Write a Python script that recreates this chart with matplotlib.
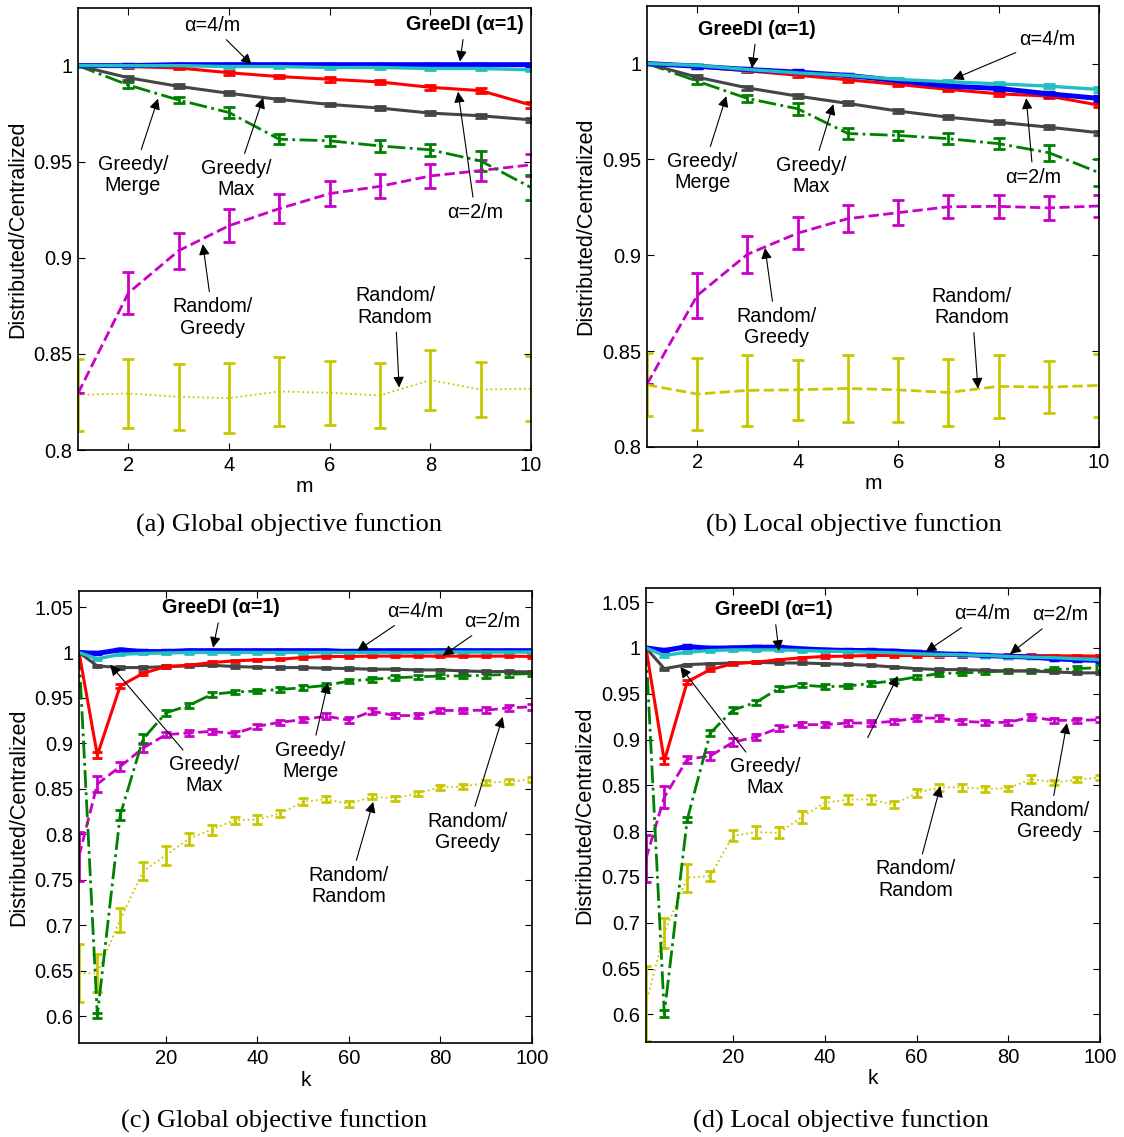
"""Distributed vs. centralized ratio, four panels (varying m and k)."""
import matplotlib
matplotlib.use("Agg")
import matplotlib.pyplot as plt

plt.rcParams["font.family"] = ["Liberation Sans", "DejaVu Sans"]
plt.rcParams["font.size"] = 14
plt.rcParams["axes.linewidth"] = 1.2

# ---------------------------------------------------------------- data
m_values = [1, 2, 3, 4, 5, 6, 7, 8, 9, 10]
k_values = [1, 5, 10, 15, 20, 25, 30, 35, 40, 45, 50,
            55, 60, 65, 70, 75, 80, 85, 90, 95, 100]

# (a) global objective, varying m
a_greedi = [1.0, 1.0, 1.0005, 1.0005, 1.0005, 1.0005, 1.0005, 1.0005, 1.0005, 1.0005]
a_greedi_err = [0, 0.0006, 0.0006, 0.0006, 0.0006, 0.0006, 0.0006, 0.0006, 0.0006, 0.0006]
a_alpha4 = [1.0, 1.0, 1.0, 0.9995, 0.9995, 0.999, 0.999, 0.9985, 0.9985, 0.9978]
a_alpha4_err = [0, 0.0005, 0.0005, 0.0005, 0.0005, 0.0005, 0.0005, 0.0006, 0.0006, 0.0006]
a_alpha2 = [1.0, 0.9995, 0.9988, 0.9963, 0.9943, 0.9929, 0.9915, 0.9887, 0.987, 0.9795]
a_alpha2_err = [0, 0.0005, 0.0008, 0.001, 0.001, 0.0012, 0.0012, 0.0013, 0.0014, 0.0016]
a_max = [1.0, 0.9937, 0.9892, 0.9856, 0.9824, 0.9798, 0.9779, 0.9753, 0.9739, 0.9718]
a_max_err = [0, 0.001, 0.001, 0.001, 0.001, 0.001, 0.001, 0.001, 0.001, 0.001]
a_merge = [1.0, 0.9899, 0.9821, 0.9756, 0.9617, 0.9609, 0.9582, 0.9562, 0.9504, 0.9366]
a_merge_err = [0, 0.0017, 0.0017, 0.0031, 0.0026, 0.0026, 0.003, 0.003, 0.0052, 0.0065]
a_rand_greedy = [0.8295, 0.8817, 0.9037, 0.9167, 0.9256, 0.9334, 0.9372, 0.9426, 0.9454, 0.9484]
a_rand_greedy_err = [0, 0.0107, 0.0094, 0.0085, 0.0076, 0.0065, 0.0063, 0.0061, 0.0054, 0.0057]
a_rand_rand = [0.8287, 0.8294, 0.8277, 0.827, 0.8305, 0.8298, 0.8284, 0.8364, 0.8315, 0.8319]
a_rand_rand_err = [0.0186, 0.0178, 0.0172, 0.0183, 0.0178, 0.0167, 0.0167, 0.0157, 0.0141, 0.017]

# (b) local objective, varying m
b_greedi = [1.0, 0.9986, 0.9969, 0.9955, 0.9938, 0.9911, 0.9882, 0.987, 0.9842, 0.9818]
b_greedi_err = [0, 0.0008, 0.0008, 0.0009, 0.0009, 0.001, 0.001, 0.0011, 0.0012, 0.0012]
b_alpha4 = [1.0, 0.999, 0.9969, 0.9951, 0.9938, 0.9917, 0.9905, 0.9894, 0.9882, 0.9865]
b_alpha4_err = [0, 0.0008, 0.0008, 0.0009, 0.0009, 0.001, 0.001, 0.0011, 0.0012, 0.0012]
b_alpha2 = [1.0, 0.9983, 0.9962, 0.9939, 0.9915, 0.9891, 0.9865, 0.9842, 0.983, 0.9783]
b_alpha2_err = [0, 0.0008, 0.0008, 0.0009, 0.0009, 0.001, 0.001, 0.0011, 0.0012, 0.0012]
b_max = [1.0, 0.9929, 0.9873, 0.983, 0.9792, 0.9752, 0.972, 0.9694, 0.9668, 0.9639]
b_max_err = [0, 0.001, 0.001, 0.001, 0.001, 0.001, 0.001, 0.001, 0.001, 0.001]
b_merge = [1.0, 0.9908, 0.9818, 0.9764, 0.9635, 0.9625, 0.9608, 0.9582, 0.9535, 0.9431]
b_merge_err = [0, 0.0015, 0.002, 0.003, 0.003, 0.0025, 0.003, 0.003, 0.0042, 0.0072]
b_rand_greedy = [0.8328, 0.879, 0.9005, 0.9115, 0.9191, 0.9222, 0.9253, 0.9255, 0.9247, 0.9257]
b_rand_greedy_err = [0, 0.0115, 0.0095, 0.0082, 0.0072, 0.0064, 0.0061, 0.0059, 0.0063, 0.0056]
b_rand_rand = [0.8324, 0.8276, 0.8295, 0.8298, 0.8305, 0.8298, 0.8284, 0.8316, 0.8312, 0.8321]
b_rand_rand_err = [0.0164, 0.0187, 0.0185, 0.0157, 0.0175, 0.0166, 0.0177, 0.0165, 0.0135, 0.0163]

# (c) global objective, varying k
c_greedi = [1.0, 0.999, 1.003, 1.001, 1.001, 1.002, 1.002, 1.002, 1.002, 1.002, 1.002,
            1.002, 1.001, 1.002, 1.002, 1.002, 1.002, 1.002, 1.002, 1.002, 1.002]
c_alpha4 = [1.0, 0.9930, 0.998, 0.999, 0.9995, 1.0, 1.0, 1.0, 1.0, 1.0, 1.0,
            1.0, 1.0, 1.0, 1.0, 1.0, 1.0005, 1.0005, 1.0005, 1.0005, 1.0005]
c_alpha2 = [1.0, 0.887, 0.9631, 0.9771, 0.9845, 0.986, 0.9889, 0.9908, 0.9919, 0.9926, 0.9945,
            0.9956, 0.9956, 0.996, 0.996, 0.996, 0.996, 0.996, 0.996, 0.996, 0.9956]
c_max = [1.0, 0.9852, 0.9834, 0.9834, 0.9845, 0.9852, 0.986, 0.9845, 0.9838, 0.9834, 0.9834,
         0.9827, 0.9823, 0.9816, 0.9816, 0.9808, 0.9808, 0.9797, 0.979, 0.979, 0.9786]
c_merge = [1.0, 0.6007, 0.8211, 0.9049, 0.9336, 0.9417, 0.9539, 0.9565, 0.9576, 0.9594, 0.9612,
           0.9638, 0.9686, 0.9705, 0.9723, 0.9731, 0.9742, 0.9742, 0.9749, 0.976, 0.9768]
c_rand_greedy = [0.776, 0.8553, 0.8745, 0.8948, 0.9096, 0.9114, 0.9133, 0.9107, 0.9188, 0.9232, 0.9262,
                 0.9299, 0.9255, 0.9354, 0.9306, 0.9306, 0.9362, 0.9362, 0.9365, 0.9391, 0.9402]
c_rand_rand = [0.647, 0.647, 0.706, 0.7594, 0.7769, 0.795, 0.8052, 0.8155, 0.8162, 0.8229, 0.8358,
               0.8387, 0.8332, 0.8413, 0.8395, 0.845, 0.8517, 0.8524, 0.8568, 0.8579, 0.8605]

# (d) local objective, varying k
d_greedi = [1.0, 0.9971, 1.0014, 0.9996, 1.0, 1.0007, 1.0007, 0.9989, 0.9978, 0.9971, 0.9971,
            0.9964, 0.9953, 0.9935, 0.9928, 0.9917, 0.9906, 0.9899, 0.9881, 0.987, 0.9863]
d_alpha4 = [1.0, 0.9917, 0.9953, 0.9971, 0.9978, 0.9978, 0.9978, 0.9971, 0.9964, 0.996, 0.9953,
            0.9946, 0.9935, 0.9928, 0.9924, 0.9917, 0.9906, 0.9899, 0.9892, 0.9881, 0.987]
d_alpha2 = [1.0, 0.8766, 0.963, 0.9763, 0.9827, 0.9845, 0.987, 0.9892, 0.9906, 0.991, 0.9917,
            0.9917, 0.9917, 0.9917, 0.9917, 0.9917, 0.9917, 0.9917, 0.9914, 0.9912, 0.991]
d_max = [1.0, 0.9773, 0.9817, 0.9827, 0.9835, 0.9842, 0.9835, 0.9835, 0.9827, 0.982, 0.9809,
         0.9791, 0.9773, 0.9763, 0.9763, 0.9755, 0.9748, 0.9748, 0.9737, 0.9727, 0.9727]
d_merge = [1.0, 0.6008, 0.8126, 0.907, 0.9322, 0.9406, 0.9558, 0.9594, 0.9576, 0.9583, 0.9612,
           0.964, 0.9683, 0.9719, 0.9727, 0.9737, 0.9748, 0.9748, 0.9763, 0.9773, 0.9784]
d_rand_greedy = [0.770, 0.837, 0.8784, 0.882, 0.8971, 0.9029, 0.9126, 0.9162, 0.9162, 0.918, 0.918,
                 0.9198, 0.9234, 0.9234, 0.9198, 0.9187, 0.9187, 0.9245, 0.9209, 0.9209, 0.9216]
d_rand_rand = [0.612, 0.6887, 0.7492, 0.751, 0.795, 0.799, 0.798, 0.8155, 0.8309, 0.8345, 0.8345,
               0.8288, 0.8417, 0.8478, 0.8478, 0.846, 0.8468, 0.8568, 0.8532, 0.8561, 0.8586]

# error bars for the k sweeps
k_small_err = [0, 0.0012, 0.0012, 0.0012, 0.0012, 0.0012, 0.0012, 0.0012, 0.0012, 0.0012, 0.0012,
               0.0012, 0.0012, 0.0012, 0.0012, 0.0012, 0.0012, 0.0012, 0.0012, 0.0012, 0.0012]
c_alpha2_err = [0, 0.003, 0.002, 0.0018, 0.0015, 0.0012, 0.0012, 0.0012, 0.0012, 0.0012, 0.0012,
                0.0012, 0.0012, 0.0012, 0.0012, 0.0012, 0.0012, 0.0012, 0.0012, 0.0012, 0.0012]
c_merge_err = [0, 0.003, 0.0055, 0.005, 0.003, 0.003, 0.0025, 0.0025, 0.0025, 0.0025, 0.0025,
               0.0025, 0.0025, 0.0025, 0.0025, 0.0025, 0.0025, 0.0025, 0.0025, 0.0025, 0.0025]
c_rand_greedy_err = [0.027, 0.009, 0.005, 0.004, 0.003, 0.003, 0.003, 0.003, 0.003, 0.003, 0.003,
                     0.003, 0.003, 0.003, 0.003, 0.003, 0.003, 0.003, 0.003, 0.003, 0.003]
c_rand_rand_err = [0.032, 0.021, 0.013, 0.010, 0.0105, 0.0065, 0.0055, 0.004, 0.005, 0.004, 0.004,
                   0.003, 0.003, 0.003, 0.003, 0.003, 0.003, 0.003, 0.003, 0.003, 0.003]
d_alpha2_err = [0, 0.003, 0.002, 0.0018, 0.0015, 0.0012, 0.0012, 0.0012, 0.0012, 0.0012, 0.0012,
                0.0012, 0.0012, 0.0012, 0.0012, 0.0012, 0.0012, 0.0012, 0.0012, 0.0012, 0.0012]
d_merge_err = [0, 0.004, 0.003, 0.003, 0.003, 0.003, 0.0025, 0.0025, 0.0025, 0.0025, 0.0025,
               0.0025, 0.0025, 0.0025, 0.0025, 0.0025, 0.0025, 0.0025, 0.0025, 0.0025, 0.0025]
d_rand_greedy_err = [0.026, 0.012, 0.004, 0.004, 0.004, 0.003, 0.003, 0.003, 0.003, 0.003, 0.003,
                     0.003, 0.003, 0.003, 0.003, 0.003, 0.003, 0.003, 0.003, 0.003, 0.003]
d_rand_rand_err = [0.041, 0.0166, 0.0155, 0.005, 0.006, 0.007, 0.006, 0.007, 0.006, 0.005, 0.005,
                   0.004, 0.004, 0.004, 0.004, 0.003, 0.003, 0.004, 0.003, 0.003, 0.003]

# ---------------------------------------------------------------- styles
STYLE = {
    "rand_rand":   dict(color="#c8c800", ls=":", lw=1.3, elinewidth=2.0),
    "rand_greedy": dict(color="#c800c8", ls="--", lw=2.0, elinewidth=2.0),
    "merge":       dict(color="#008000", ls="-.", lw=2.0, elinewidth=2.0),
    "max":         dict(color="#454545", ls="-", lw=2.2, elinewidth=2.0),
    "alpha2":      dict(color="#ff0000", ls="-", lw=2.2, elinewidth=2.0),
    "greedi":      dict(color="#0000ff", ls="-", lw=3.6, elinewidth=2.5),
    "alpha4":      dict(color="#20c0c0", ls="-", lw=2.4, elinewidth=2.0),
}
DRAW_ORDER = ["rand_rand", "rand_greedy", "merge", "max", "alpha2", "greedi", "alpha4"]


def draw_series(ax, x, series, capsize, overrides=None):
    for name in DRAW_ORDER:
        y, err = series[name]
        st = dict(STYLE[name])
        if overrides and name in overrides:
            st.update(overrides[name])
        ax.errorbar(x, y, yerr=err, color=st["color"], ls=st["ls"], lw=st["lw"],
                    elinewidth=st["elinewidth"], capsize=capsize,
                    capthick=st["elinewidth"])


def style_axes(ax, xlim, ylim, xticks, yticks, yticklabels, xlabel):
    ax.set_xlim(*xlim)
    ax.set_ylim(*ylim)
    ax.set_xticks(xticks)
    ax.set_yticks(yticks)
    ax.set_yticklabels(yticklabels)
    ax.tick_params(direction="in", top=True, right=True, length=5,
                   width=0.8, labelsize=14.5, pad=4)
    ax.set_xlabel(xlabel, fontsize=15, labelpad=2)
    ax.set_ylabel("Distributed/Centralized", fontsize=15.5, labelpad=4)


def note(ax, text, xytext, xy, bold=False):
    ax.annotate(text, xy=xy, xytext=xytext, ha="center", va="center",
                fontsize=14.2, fontweight="bold" if bold else "normal",
                linespacing=1.15,
                arrowprops=dict(arrowstyle="-|>", color="k", lw=0.8,
                                mutation_scale=16, shrinkA=2, shrinkB=0))


fig = plt.figure(figsize=(11.24, 11.37), dpi=100)

ax_a = fig.add_axes([0.0694, 0.6042, 0.4030, 0.3888])
ax_b = fig.add_axes([0.5756, 0.6069, 0.4022, 0.3878])
ax_c = fig.add_axes([0.0703, 0.0824, 0.4030, 0.3981])
ax_d = fig.add_axes([0.5747, 0.0836, 0.4039, 0.3990])

m_yticks = [0.8, 0.85, 0.9, 0.95, 1.0]
m_ylabels = ["0.8", "0.85", "0.9", "0.95", "1"]
k_yticks = [0.6, 0.65, 0.7, 0.75, 0.8, 0.85, 0.9, 0.95, 1.0, 1.05]
k_ylabels = ["0.6", "0.65", "0.7", "0.75", "0.8", "0.85", "0.9", "0.95", "1", "1.05"]

# (a)
draw_series(ax_a, m_values, {
    "greedi": (a_greedi, a_greedi_err), "alpha4": (a_alpha4, a_alpha4_err),
    "alpha2": (a_alpha2, a_alpha2_err), "max": (a_max, a_max_err),
    "merge": (a_merge, a_merge_err), "rand_greedy": (a_rand_greedy, a_rand_greedy_err),
    "rand_rand": (a_rand_rand, a_rand_rand_err)}, capsize=4.2)
style_axes(ax_a, (1, 10), (0.8, 1.03), [2, 4, 6, 8, 10], m_yticks, m_ylabels, "m")
note(ax_a, "\u03b1=4/m", (3.66, 1.0209), (4.45, 1.0005))
note(ax_a, "GreeDI (\u03b1=1)", (8.69, 1.0214), (8.59, 1.0021), bold=True)
note(ax_a, "Greedy/\nMerge", (2.09, 0.9431), (2.59, 0.9828))
note(ax_a, "Greedy/\nMax", (4.14, 0.941), (4.68, 0.9833))
note(ax_a, "\u03b1=2/m", (8.89, 0.9238), (8.55, 0.9864))
note(ax_a, "Random/\nGreedy", (3.68, 0.869), (3.48, 0.9071))
note(ax_a, "Random/\nRandom", (7.3, 0.8747), (7.38, 0.8325))

# (b)
draw_series(ax_b, m_values, {
    "greedi": (b_greedi, b_greedi_err), "alpha4": (b_alpha4, b_alpha4_err),
    "alpha2": (b_alpha2, b_alpha2_err), "max": (b_max, b_max_err),
    "merge": (b_merge, b_merge_err), "rand_greedy": (b_rand_greedy, b_rand_greedy_err),
    "rand_rand": (b_rand_rand, b_rand_rand_err)}, capsize=4.2,
    overrides={"rand_rand": dict(ls="--", lw=2.0)})
style_axes(ax_b, (1, 10), (0.8, 1.03), [2, 4, 6, 8, 10], m_yticks, m_ylabels, "m")
note(ax_b, "GreeDI (\u03b1=1)", (3.19, 1.0179), (3.09, 0.9976), bold=True)
note(ax_b, "\u03b1=4/m", (8.97, 1.0127), (7.09, 0.9918))
note(ax_b, "Greedy/\nMerge", (2.1, 0.9434), (2.58, 0.983))
note(ax_b, "Greedy/\nMax", (4.27, 0.9413), (4.71, 0.9788))
note(ax_b, "\u03b1=2/m", (8.69, 0.9408), (8.55, 0.9819))
note(ax_b, "Random/\nGreedy", (3.57, 0.8626), (3.35, 0.9038))
note(ax_b, "Random/\nRandom", (7.47, 0.873), (7.59, 0.8304))

# (c)
draw_series(ax_c, k_values, {
    "greedi": (c_greedi, k_small_err), "alpha4": (c_alpha4, k_small_err),
    "alpha2": (c_alpha2, c_alpha2_err), "max": (c_max, k_small_err),
    "merge": (c_merge, c_merge_err), "rand_greedy": (c_rand_greedy, c_rand_greedy_err),
    "rand_rand": (c_rand_rand, c_rand_rand_err)}, capsize=3.5)
style_axes(ax_c, (1, 100), (0.57, 1.068), [20, 40, 60, 80, 100], k_yticks, k_ylabels, "k")
note(ax_c, "GreeDI (\u03b1=1)", (32.1, 1.0492), (30.3, 1.0052), bold=True)
note(ax_c, "\u03b1=4/m", (74.4, 1.0448), (61.8, 1.0019))
note(ax_c, "\u03b1=2/m", (91.2, 1.0338), (80.5, 0.9964))
note(ax_c, "Greedy/\nMax", (28.4, 0.8653), (7.8, 0.9865))
note(ax_c, "Greedy/\nMerge", (51.5, 0.8808), (55.4, 0.9666))
note(ax_c, "Random/\nGreedy", (85.8, 0.8026), (93.6, 0.9292))
note(ax_c, "Random/\nRandom", (60.0, 0.7431), (65.3, 0.8356))

# (d)
draw_series(ax_d, k_values, {
    "greedi": (d_greedi, k_small_err), "alpha4": (d_alpha4, k_small_err),
    "alpha2": (d_alpha2, d_alpha2_err), "max": (d_max, k_small_err),
    "merge": (d_merge, d_merge_err), "rand_greedy": (d_rand_greedy, d_rand_greedy_err),
    "rand_rand": (d_rand_rand, d_rand_rand_err)}, capsize=3.5)
style_axes(ax_d, (1, 100), (0.57, 1.065), [20, 40, 60, 80, 100], k_yticks, k_ylabels, "k")
note(ax_d, "GreeDI (\u03b1=1)", (28.9, 1.0416), (30.0, 0.9967), bold=True)
note(ax_d, "\u03b1=4/m", (74.3, 1.0372), (62.0, 0.9956))
note(ax_d, "\u03b1=2/m", (91.3, 1.0361), (80.4, 0.9934))
note(ax_d, "Greedy/\nMax", (27.0, 0.8589), (8.5, 0.9792))
note(ax_d, "", (49.1, 0.8993), (55.9, 0.9694))
note(ax_d, "Random/\nGreedy", (88.9, 0.8107), (92.8, 0.9179))
note(ax_d, "Random/\nRandom", (59.8, 0.7472), (65.2, 0.849))

# sub-figure captions
cap = dict(ha="center", va="center", fontsize=19, family="Liberation Serif")
fig.text(0.2567, 1 - 525 / 1137, "(a) Global objective function", **cap)
fig.text(0.7598, 1 - 525 / 1137, "(b) Local objective function", **cap)
fig.text(0.2442, 1 - 1121 / 1137, "(c) Global objective function", **cap)
fig.text(0.7482, 1 - 1121 / 1137, "(d) Local objective function", **cap)

fig.savefig("out.png", dpi=100)
